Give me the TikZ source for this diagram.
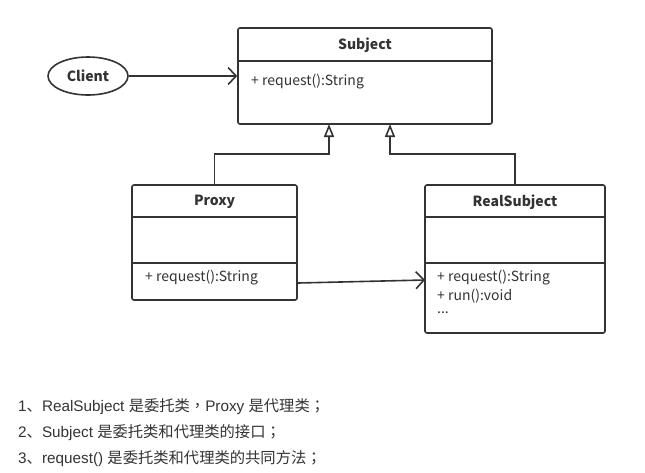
\documentclass[tikz,border=0pt]{standalone}
\usepackage{fontspec}
\setmainfont{Liberation Sans}
\newfontfamily\cjk{Noto Sans CJK SC}
\newfontfamily\cjkpunct{Noto Sans CJK TC}
\usetikzlibrary{positioning,arrows.meta,shapes.geometric}
\definecolor{linegray}{HTML}{333333}
\newcommand{\zh}[1]{{\cjk #1}}
\newcommand{\zp}[1]{{\cjkpunct #1}}

\tikzset{
  umlbox/.style={draw=linegray,line width=1.6pt,rounded corners=2pt,inner sep=0pt},
  classname/.style={font=\cjk\fontsize{14}{16}\selectfont\bfseries,text=linegray},
  member/.style={font=\cjk\fontsize{14}{16}\selectfont,text=linegray,anchor=west,inner sep=0pt},
  note/.style={font=\fontsize{15.3}{18}\selectfont,text=linegray,anchor=west,inner sep=0pt},
  assoc/.style={->,draw=linegray,line width=1.6pt},
  gen/.style={-{Triangle[open,length=13pt,width=10pt]},draw=linegray,line width=1.6pt}
}

\begin{document}
\begin{tikzpicture}[x=1pt,y=-1pt,>={Straight Barb[length=8pt,width=17pt]}]
\useasboundingbox (0,0) rectangle (645,472);

% classes
\node[umlbox,minimum width=254pt,minimum height=96pt] (subject) at (365,76) {};
\node[umlbox,minimum width=165pt,minimum height=115pt] (proxy) at (214.5,242.5) {};
\node[umlbox,minimum width=180pt,minimum height=148pt] (real) at (515,259) {};
\node[draw=linegray,line width=1.6pt,ellipse,minimum width=80pt,minimum height=38pt,inner sep=0pt] (client) at (88,76) {};

\node[classname] (clientname) at (client) {Client};
\node[classname] (subjectname) at (365,45) {Subject};
\node[classname] (proxyname) at (214.5,202) {Proxy};
\node[classname] (realname) at (515,202) {RealSubject};

% dividers
\draw[linegray,line width=1.6pt] ([yshift=-34pt]subject.north west) -- ([yshift=-34pt]subject.north east);
\draw[linegray,line width=1.6pt] ([yshift=-33pt]proxy.north west) -- ([yshift=-33pt]proxy.north east);
\draw[linegray,line width=1.6pt] ([yshift=-79pt]proxy.north west) -- ([yshift=-79pt]proxy.north east);
\draw[linegray,line width=1.6pt] ([yshift=-33pt]real.north west) -- ([yshift=-33pt]real.north east);
\draw[linegray,line width=1.6pt] ([yshift=-79pt]real.north west) -- ([yshift=-79pt]real.north east);

% members
\node[member] (subjectops) at (251,82) {+ request():String};
\node[member] (proxyops) at (145,278) {+ request():String};
\node[member] (realops) at (437,278) {+ request():String};
\node[member] (realrun) at (437,296) {+ run():void};
\node[member] (realmore) at (437,313) {...};

% connectors
\coordinate (s1) at (329,124);
\coordinate (s2) at (390,124);
\coordinate (pa) at (298,283);
\coordinate (ra) at (425,280);
\draw[assoc] (client) -- (client -| subject.west);
\draw[assoc] (pa) -- (ra);
\draw[gen] (proxy.north) -- ++(0,-30) -| (s1);
\draw[gen] (real.north) -- ++(0,-30) -| (s2);

% notes
\node[note] (n1) at (18,407) {1\zh{、}RealSubject \zh{是委托类}\zp{，}Proxy \zh{是代理类}\zp{；}};
\node[note] (n2) at (18,433) {2\zh{、}Subject \zh{是委托类和代理类的接口}\zp{；}};
\node[note] (n3) at (18,459) {3\zh{、}request() \zh{是委托类和代理类的共同方法}\zp{；}};
\end{tikzpicture}
\end{document}
